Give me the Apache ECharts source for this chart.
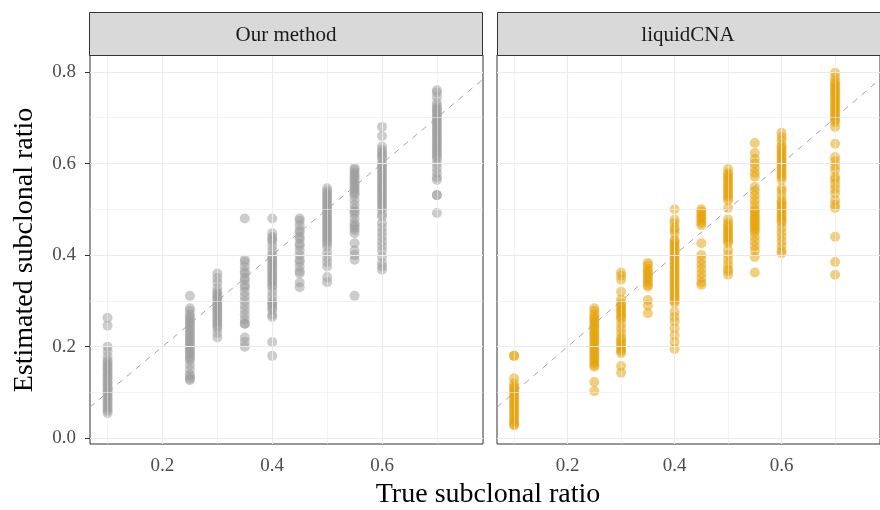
<!DOCTYPE html>
<html>
<head>
<meta charset="utf-8">
<script src="https://cdn.jsdelivr.net/npm/echarts@6/dist/echarts.min.js"></script>
<style>
  html, body { margin: 0; padding: 0; background: #fff; }
  #chart { width: 880px; height: 510px; }
</style>
</head>
<body>
<div id="chart"></div>
<script>
const panelTitles = ['Our method', 'liquidCNA']
const trueRatios = [0.1, 0.25, 0.3, 0.35, 0.4, 0.45, 0.5, 0.55, 0.6, 0.7]

const ourEstimates = [
  [0.263, 0.246, 0.20, 0.19, 0.178, 0.17, 0.165, 0.16, 0.155, 0.15, 0.145, 0.14, 0.135, 0.13, 0.125, 0.12, 0.115, 0.11, 0.105, 0.10, 0.095, 0.09, 0.085, 0.08, 0.075, 0.07, 0.065, 0.06, 0.055],
  [0.311, 0.284, 0.278, 0.27, 0.265, 0.26, 0.255, 0.25, 0.245, 0.24, 0.235, 0.23, 0.225, 0.22, 0.215, 0.21, 0.205, 0.20, 0.195, 0.19, 0.185, 0.18, 0.175, 0.17, 0.16, 0.15, 0.14, 0.135, 0.13, 0.127],
  [0.36, 0.35, 0.34, 0.328, 0.32, 0.315, 0.31, 0.305, 0.30, 0.295, 0.29, 0.285, 0.28, 0.275, 0.27, 0.265, 0.26, 0.255, 0.25, 0.245, 0.24, 0.23, 0.22],
  [0.48, 0.39, 0.385, 0.375, 0.365, 0.36, 0.35, 0.345, 0.335, 0.33, 0.32, 0.31, 0.30, 0.29, 0.28, 0.27, 0.26, 0.25, 0.25, 0.22, 0.21, 0.20],
  [0.48, 0.448, 0.44, 0.435, 0.43, 0.42, 0.41, 0.40, 0.395, 0.39, 0.385, 0.38, 0.375, 0.37, 0.365, 0.36, 0.355, 0.35, 0.345, 0.34, 0.335, 0.33, 0.32, 0.31, 0.30, 0.295, 0.29, 0.285, 0.28, 0.27, 0.265, 0.21, 0.18],
  [0.48, 0.475, 0.465, 0.455, 0.45, 0.44, 0.435, 0.425, 0.42, 0.41, 0.40, 0.39, 0.385, 0.375, 0.365, 0.36, 0.34, 0.33],
  [0.546, 0.54, 0.535, 0.53, 0.525, 0.52, 0.515, 0.51, 0.505, 0.50, 0.495, 0.49, 0.485, 0.48, 0.475, 0.47, 0.465, 0.46, 0.455, 0.45, 0.445, 0.44, 0.435, 0.43, 0.425, 0.418, 0.405, 0.395, 0.385, 0.375, 0.352, 0.341],
  [0.59, 0.586, 0.58, 0.575, 0.57, 0.565, 0.56, 0.555, 0.55, 0.545, 0.54, 0.535, 0.53, 0.52, 0.51, 0.50, 0.495, 0.49, 0.48, 0.47, 0.465, 0.46, 0.455, 0.448, 0.426, 0.41, 0.40, 0.39, 0.311],
  [0.68, 0.66, 0.637, 0.63, 0.625, 0.62, 0.615, 0.61, 0.60, 0.595, 0.59, 0.585, 0.58, 0.575, 0.57, 0.565, 0.56, 0.555, 0.55, 0.545, 0.54, 0.535, 0.53, 0.525, 0.52, 0.515, 0.51, 0.505, 0.50, 0.49, 0.484, 0.47, 0.46, 0.45, 0.44, 0.43, 0.42, 0.41, 0.397, 0.383, 0.375, 0.368],
  [0.76, 0.755, 0.745, 0.732, 0.725, 0.72, 0.715, 0.71, 0.705, 0.70, 0.695, 0.69, 0.685, 0.68, 0.675, 0.67, 0.665, 0.66, 0.655, 0.65, 0.645, 0.64, 0.635, 0.63, 0.625, 0.62, 0.615, 0.61, 0.60, 0.59, 0.58, 0.57, 0.564, 0.531, 0.531, 0.492]
]

const liquidEstimates = [
  [0.18, 0.18, 0.131, 0.12, 0.113, 0.11, 0.105, 0.10, 0.095, 0.09, 0.085, 0.08, 0.075, 0.07, 0.065, 0.06, 0.055, 0.05, 0.045, 0.04, 0.035, 0.03, 0.028],
  [0.284, 0.278, 0.27, 0.265, 0.26, 0.255, 0.25, 0.245, 0.24, 0.235, 0.23, 0.225, 0.22, 0.215, 0.21, 0.205, 0.20, 0.195, 0.19, 0.185, 0.18, 0.175, 0.17, 0.165, 0.16, 0.156, 0.123, 0.103],
  [0.362, 0.355, 0.346, 0.32, 0.303, 0.295, 0.29, 0.285, 0.28, 0.275, 0.27, 0.265, 0.26, 0.25, 0.24, 0.23, 0.22, 0.215, 0.21, 0.205, 0.20, 0.195, 0.19, 0.186, 0.158, 0.143],
  [0.383, 0.378, 0.37, 0.365, 0.36, 0.355, 0.35, 0.345, 0.34, 0.335, 0.331, 0.302, 0.29, 0.273],
  [0.50, 0.477, 0.47, 0.46, 0.455, 0.448, 0.433, 0.43, 0.425, 0.42, 0.415, 0.41, 0.405, 0.40, 0.395, 0.39, 0.385, 0.38, 0.375, 0.37, 0.365, 0.36, 0.355, 0.35, 0.345, 0.34, 0.335, 0.33, 0.325, 0.32, 0.315, 0.31, 0.305, 0.30, 0.295, 0.276, 0.265, 0.255, 0.24, 0.225, 0.21, 0.195],
  [0.50, 0.495, 0.49, 0.485, 0.48, 0.475, 0.47, 0.465, 0.426, 0.40, 0.39, 0.38, 0.37, 0.36, 0.35, 0.34, 0.335],
  [0.588, 0.579, 0.575, 0.57, 0.565, 0.56, 0.555, 0.55, 0.545, 0.54, 0.535, 0.53, 0.525, 0.52, 0.503, 0.478, 0.47, 0.465, 0.46, 0.455, 0.45, 0.445, 0.44, 0.435, 0.43, 0.426, 0.411, 0.40, 0.39, 0.38, 0.37, 0.365, 0.357],
  [0.645, 0.623, 0.61, 0.60, 0.59, 0.58, 0.571, 0.549, 0.54, 0.53, 0.52, 0.51, 0.50, 0.495, 0.49, 0.485, 0.48, 0.475, 0.47, 0.465, 0.46, 0.455, 0.45, 0.44, 0.43, 0.42, 0.41, 0.396, 0.362],
  [0.667, 0.658, 0.65, 0.64, 0.635, 0.63, 0.625, 0.62, 0.615, 0.61, 0.605, 0.60, 0.595, 0.59, 0.585, 0.58, 0.575, 0.57, 0.564, 0.546, 0.54, 0.53, 0.52, 0.515, 0.51, 0.505, 0.50, 0.495, 0.49, 0.485, 0.48, 0.475, 0.47, 0.46, 0.45, 0.44, 0.43, 0.42, 0.41, 0.404],
  [0.798, 0.789, 0.78, 0.775, 0.77, 0.765, 0.76, 0.755, 0.75, 0.745, 0.74, 0.735, 0.73, 0.725, 0.72, 0.715, 0.71, 0.705, 0.70, 0.695, 0.69, 0.68, 0.643, 0.614, 0.605, 0.595, 0.586, 0.571, 0.565, 0.555, 0.545, 0.535, 0.52, 0.51, 0.503, 0.44, 0.385, 0.357]
]

const xTicks = [0.2, 0.4, 0.6]
const yTicks = [0, 0.2, 0.4, 0.6, 0.8]
const xGrid = [0.1, 0.2, 0.3, 0.4, 0.5, 0.6, 0.7]
const yGrid = [0, 0.1, 0.2, 0.3, 0.4, 0.5, 0.6, 0.7, 0.8]

const X_MIN = 0.068, X_MAX = 0.784
const Y_MIN = -0.0125, Y_MAX = 0.837
const FONT = '"Liberation Serif", "DejaVu Serif", serif'
const panelColors = ['#999999', '#E69F00']

function toPoints(estimates) {
  const pts = []
  estimates.forEach((col, i) => {
    col.forEach(v => pts.push([trueRatios[i], v]))
  })
  return pts
}

function isMajor(v) {
  return Math.abs(Math.round(v * 10) % 2) === 0
}

function gridLines(idx) {
  const data = []
  xGrid.forEach(v => data.push({ xAxis: v, lineStyle: { width: isMajor(v) ? 1.1 : 0.6 } }))
  yGrid.forEach(v => data.push({ yAxis: v, lineStyle: { width: isMajor(v) ? 1.1 : 0.6 } }))
  return {
    type: 'scatter',
    xAxisIndex: idx,
    yAxisIndex: idx,
    data: [],
    z: 1,
    silent: true,
    markLine: {
      silent: true,
      symbol: ['none', 'none'],
      label: { show: false },
      animation: false,
      lineStyle: { color: '#EBEBEB', type: 'solid' },
      data: data
    }
  }
}

const chart = echarts.init(document.getElementById('chart'), null, { renderer: 'canvas' })

const grids = [
  { left: 90, top: 55, width: 393, bottom: 66 },
  { left: 497, top: 55, width: 393, bottom: 66 }
]

const option = {
  animation: false,
  backgroundColor: '#fff',
  textStyle: { fontFamily: FONT },
  grid: grids.map(g => Object.assign({
    show: true,
    borderColor: '#333333',
    borderWidth: 1,
    backgroundColor: '#fff',
    containLabel: false
  }, g)),
  xAxis: [0, 1].map(i => ({
    type: 'value',
    gridIndex: i,
    min: X_MIN,
    max: X_MAX,
    splitLine: { show: false },
    axisLine: { show: false },
    axisTick: { show: true, length: 5, customValues: xTicks, lineStyle: { color: '#333333' } },
    axisLabel: {
      customValues: xTicks,
      margin: 13,
      color: '#4D4D4D',
      fontSize: 19,
      fontFamily: FONT,
      formatter: v => v.toFixed(1)
    }
  })),
  yAxis: [0, 1].map(i => ({
    type: 'value',
    gridIndex: i,
    min: Y_MIN,
    max: Y_MAX,
    splitLine: { show: false },
    axisLine: { show: false },
    axisTick: { show: i === 0, length: 5, customValues: yTicks, lineStyle: { color: '#333333' } },
    axisLabel: {
      show: i === 0,
      customValues: yTicks,
      margin: 14,
      color: '#4D4D4D',
      fontSize: 19,
      fontFamily: FONT,
      formatter: v => v.toFixed(1)
    }
  })),
  graphic: [
    { type: 'rect', shape: { x: 89.5, y: 12.5, width: 393, height: 43 }, style: { fill: '#D9D9D9', stroke: '#333333', lineWidth: 1 }, z: 10 },
    { type: 'rect', shape: { x: 497.5, y: 12.5, width: 393, height: 43 }, style: { fill: '#D9D9D9', stroke: '#333333', lineWidth: 1 }, z: 10 },
    { type: 'text', x: 286, y: 35, style: { text: panelTitles[0], font: '21px ' + FONT, fill: '#1A1A1A', align: 'center', verticalAlign: 'middle' }, z: 11 },
    { type: 'text', x: 688, y: 35, style: { text: panelTitles[1], font: '21px ' + FONT, fill: '#1A1A1A', align: 'center', verticalAlign: 'middle' }, z: 11 },
    { type: 'text', x: 25, y: 250, rotation: Math.PI / 2, style: { text: 'Estimated subclonal ratio', font: '28px ' + FONT, fill: '#000', align: 'center', verticalAlign: 'middle' }, z: 11 },
    { type: 'text', x: 488, y: 495, style: { text: 'True subclonal ratio', font: '28px ' + FONT, fill: '#000', align: 'center', verticalAlign: 'middle' }, z: 11 }
  ],
  series: []
}

;[ourEstimates, liquidEstimates].forEach((est, i) => {
  option.series.push(gridLines(i))
  option.series.push({
    type: 'scatter',
    name: panelTitles[i],
    xAxisIndex: i,
    yAxisIndex: i,
    symbolSize: 10,
    z: 3,
    itemStyle: { color: panelColors[i], opacity: 0.5 },
    data: toPoints(est)
  })
  option.series.push({
    type: 'line',
    xAxisIndex: i,
    yAxisIndex: i,
    z: 4,
    symbol: 'none',
    silent: true,
    clip: true,
    lineStyle: { color: '#A6A6A6', width: 1, type: [6, 6] },
    data: [[X_MIN, X_MIN], [X_MAX, X_MAX]]
  })
})

chart.setOption(option)
</script>
</body>
</html>
